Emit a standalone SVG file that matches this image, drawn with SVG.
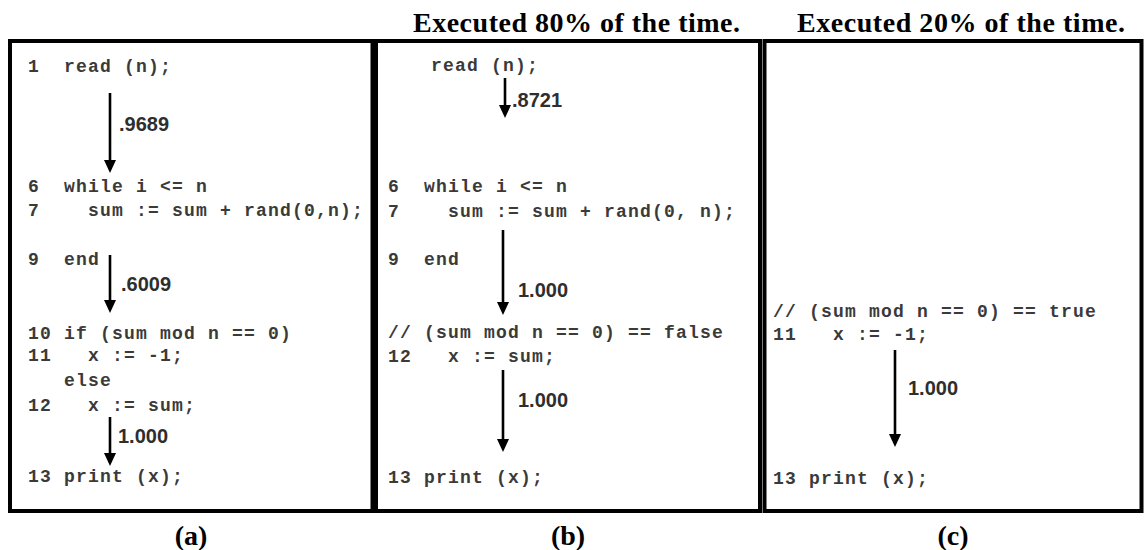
<svg xmlns="http://www.w3.org/2000/svg" width="1146" height="550" viewBox="0 0 1146 550" xml:space="preserve">
<style>
.code{font-family:"Liberation Mono","Courier New",monospace;font-size:18px;font-weight:bold;letter-spacing:1.2px;fill:#3a3a3a;white-space:pre}
.num{font-family:"Liberation Sans",Arial,sans-serif;font-size:20px;font-weight:bold;fill:#2e2e2e}
.title{font-family:"Liberation Serif","Times New Roman",serif;font-weight:bold;font-size:28px;fill:#000}
.cap{font-family:"Liberation Serif","Times New Roman",serif;font-weight:bold;font-size:28px;fill:#000;text-anchor:middle}
.panel{fill:#fff;stroke:#000;stroke-width:4}
.arr{stroke:#000;stroke-width:2.6;fill:none;marker-end:url(#ah)}
</style>
<defs>
<marker id="ah" markerUnits="userSpaceOnUse" markerWidth="13" markerHeight="12" refX="9" refY="6" orient="auto">
<path d="M0,0 L13,6 L0,12 z" fill="#000"/>
</marker>
</defs>
<rect width="1146" height="550" fill="#fff"/>
<g id="titles">
<text class="title" x="413" y="32" textLength="327" lengthAdjust="spacing">Executed 80% of the time.</text>
<text class="title" x="797" y="32" textLength="328" lengthAdjust="spacing">Executed 20% of the time.</text>
</g>
<g id="panel-a">
<rect class="panel" x="10" y="41" width="362.5" height="470"/>
<g id="a-read"><text class="code" x="28" y="72">1  read (n);</text></g>
<g id="a-while"><text class="code" x="28" y="192">6  while i &lt;= n</text><text class="code" x="28" y="216">7    sum := sum + rand(0,n);</text></g>
<g id="a-end"><text class="code" x="28" y="265">9  end</text></g>
<g id="a-if"><text class="code" x="28" y="339">10 if (sum mod n == 0)</text><text class="code" x="28" y="361">11   x := -1;</text><text class="code" x="28" y="386">   else</text><text class="code" x="28" y="411">12   x := sum;</text></g>
<g id="a-print"><text class="code" x="28" y="482">13 print (x);</text></g>
</g>
<g id="panel-b">
<rect class="panel" x="376" y="41" width="384" height="470"/>
<g id="b-read"><text class="code" x="431" y="71">read (n);</text></g>
<g id="b-while"><text class="code" x="388" y="192">6  while i &lt;= n</text><text class="code" x="388" y="217">7    sum := sum + rand(0, n);</text></g>
<g id="b-end"><text class="code" x="388" y="265">9  end</text></g>
<g id="b-false"><text class="code" x="388" y="338">// (sum mod n == 0) == false</text><text class="code" x="388" y="362">12   x := sum;</text></g>
<g id="b-print"><text class="code" x="388" y="483">13 print (x);</text></g>
</g>
<g id="panel-c">
<rect class="panel" x="764.5" y="41" width="377" height="470"/>
<g id="c-true"><text class="code" x="773" y="317">// (sum mod n == 0) == true</text><text class="code" x="773" y="340">11   x := -1;</text></g>
<g id="c-print"><text class="code" x="773" y="484">13 print (x);</text></g>
</g>
<g id="connectors">
<line class="arr" x1="110" y1="93" x2="110" y2="169"/>
<line class="arr" x1="110" y1="255" x2="110" y2="309"/>
<line class="arr" x1="110" y1="417" x2="110" y2="462"/>
<line class="arr" x1="505" y1="78" x2="505" y2="114"/>
<line class="arr" x1="503" y1="230" x2="503" y2="311"/>
<line class="arr" x1="503" y1="370" x2="503" y2="448"/>
<line class="arr" x1="895" y1="350" x2="895" y2="443"/>
<text class="num" x="119" y="131">.9689</text>
<text class="num" x="121" y="291">.6009</text>
<text class="num" x="118" y="443">1.000</text>
<text class="num" x="512" y="107">.8721</text>
<text class="num" x="518" y="297">1.000</text>
<text class="num" x="518" y="407">1.000</text>
<text class="num" x="908" y="395">1.000</text>
</g>
<g id="captions">
<text class="cap" x="191" y="545">(a)</text>
<text class="cap" x="568" y="545">(b)</text>
<text class="cap" x="953" y="545">(c)</text>
</g>
</svg>
